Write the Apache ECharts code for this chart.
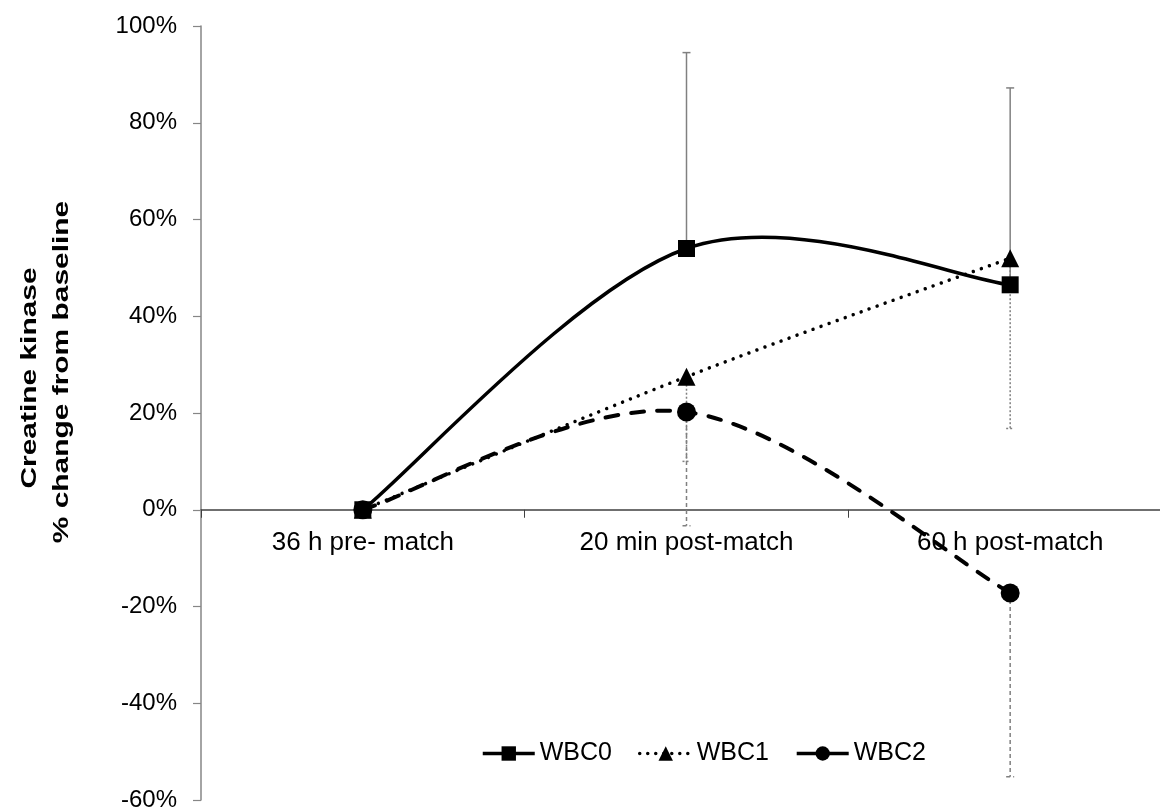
<!DOCTYPE html>
<html>
<head>
<meta charset="utf-8">
<script src="https://cdn.jsdelivr.net/npm/echarts@6/dist/echarts.min.js"></script>
<style>html,body{margin:0;padding:0;background:#fff}#c{width:1160px;height:807px}</style>
</head>
<body>
<div id="c"></div>
<script>
const categories = ['36 h pre- match', '20 min post-match', '60 h post-match'];
const yTicks = [-60, -40, -20, 0, 20, 40, 60, 80, 100];
const wbc0 = [0, 54.0, 46.5];
const wbc1 = [0, 27.5, 52.0];
const wbc2 = [0, 20.2, -17.2];
const wbc0Upper = [null, 94.5, 87.2];
const wbc1Lower = [null, 10.0, 16.8];
const wbc2Lower = [null, -3.3, -55.2];

const yMin = yTicks[0], yMax = yTicks[yTicks.length - 1], yStep = yTicks[1] - yTicks[0];
const font = 'Liberation Sans, Arial, sans-serif';
const gridTop = 26, gridBottom = 7, chartH = 807;
const plotH = chartH - gridTop - gridBottom;
// second grid (labels only) ends at the zero line
const zeroH = plotH * (yMax - 0) / (yMax - yMin);

function barData(means, bounds) {
  const out = [];
  means.forEach((m, i) => { if (bounds[i] !== null) out.push([i, m, bounds[i]]); });
  return out;
}

function errRender(dash) {
  return function (params, api) {
    const p0 = api.coord([api.value(0), api.value(1)]);
    const p1 = api.coord([api.value(0), api.value(2)]);
    const style = { stroke: '#808080', lineWidth: 1.5, lineDash: dash };
    return {
      type: 'group',
      children: [
        { type: 'line', shape: { x1: p0[0], y1: p0[1], x2: p1[0], y2: p1[1] }, style: style },
        { type: 'line', shape: { x1: p1[0] - 4, y1: p1[1], x2: p1[0] + 4, y2: p1[1] }, style: style }
      ]
    };
  };
}

// Excel-like smoothed curve (Catmull-Rom style Bezier) through the values
function curveRender(values, style) {
  return function (params, api) {
    if (params.dataIndex !== 0) return null;
    const pts = values.map((v, i) => api.coord([i, v]));
    const n = pts.length;
    let d = 'M' + pts[0][0] + ' ' + pts[0][1];
    for (let i = 0; i < n - 1; i++) {
      const p0 = pts[Math.max(i - 1, 0)], p1 = pts[i], p2 = pts[i + 1], p3 = pts[Math.min(i + 2, n - 1)];
      const c1x = p1[0] + (p2[0] - p0[0]) / 6, c1y = p1[1] + (p2[1] - p0[1]) / 6;
      const c2x = p2[0] - (p3[0] - p1[0]) / 6, c2y = p2[1] - (p3[1] - p1[1]) / 6;
      d += ' C' + c1x + ' ' + c1y + ' ' + c2x + ' ' + c2y + ' ' + p2[0] + ' ' + p2[1];
    }
    return { type: 'path', shape: { pathData: d }, style: Object.assign({ fill: null, stroke: '#000' }, style) };
  };
}

const s0 = { lineWidth: 3.5 };
const s1 = { lineWidth: 3.5, lineDash: [0.01, 8.5], lineCap: 'round' };
const s2 = { lineWidth: 4, lineDash: [13, 13], lineCap: 'round' };

const chart = echarts.init(document.getElementById('c'), null, { renderer: 'canvas' });
chart.setOption({
  animation: false,
  textStyle: { fontFamily: font },
  grid: [
    { left: 201, top: gridTop, bottom: gridBottom, right: -12, outerBoundsMode: 'none', containLabel: false },
    { left: 201, top: gridTop, height: zeroH, right: -12, outerBoundsMode: 'none', containLabel: false }
  ],
  graphic: [
    { type: 'text', x: 30, y: 378, rotation: Math.PI / 2, scaleX: 1.36, style: { text: 'Creatine kinase', font: 'bold 22px ' + font, fill: '#000', align: 'center', verticalAlign: 'middle' } },
    { type: 'text', x: 62, y: 372, rotation: Math.PI / 2, scaleX: 1.36, style: { text: '% change from baseline', font: 'bold 22px ' + font, fill: '#000', align: 'center', verticalAlign: 'middle' } }
  ],
  legend: {
    data: [
      { name: 'WBC0', lineStyle: { color: '#000', width: 3.5, type: 'solid', opacity: 1 } },
      { name: 'WBC1', lineStyle: { color: '#000', width: 3.5, type: [0.01, 8], cap: 'round', opacity: 1 } },
      { name: 'WBC2', lineStyle: { color: '#000', width: 3.5, type: 'solid', opacity: 1 } }
    ],
    top: 736,
    left: 476,
    itemWidth: 52,
    itemHeight: 18,
    itemGap: 26,
    textStyle: { fontSize: 25, color: '#000', fontFamily: font, padding: [0, 0, 0, 0] }
  },
  xAxis: [
    {
      type: 'category', gridIndex: 0,
      data: categories,
      axisLine: { onZero: true, lineStyle: { color: '#404040', width: 1.5 } },
      axisTick: { show: true, length: 8, lineStyle: { color: '#404040' } },
      axisLabel: { show: false },
      splitLine: { show: false }
    },
    {
      type: 'category', gridIndex: 1,
      data: categories,
      axisLine: { show: false },
      axisTick: { show: false },
      axisLabel: { fontSize: 26, color: '#000', margin: 20, fontFamily: font, interval: 0 },
      splitLine: { show: false }
    }
  ],
  yAxis: [
    {
      type: 'value', gridIndex: 0,
      min: yMin, max: yMax, interval: yStep,
      axisLine: { show: true, lineStyle: { color: '#868686', width: 1.5 } },
      axisTick: { show: true, length: 8, lineStyle: { color: '#868686', width: 1.2 } },
      axisLabel: { fontSize: 24, color: '#000', margin: 24, fontFamily: font, formatter: v => v + '%' },
      splitLine: { show: false }
    },
    {
      type: 'value', gridIndex: 1, min: 0, max: yMax, show: false
    }
  ],
  series: [
    { name: 'bar0', type: 'custom', z: 1, renderItem: errRender(null), data: barData(wbc0, wbc0Upper), encode: { x: 0, y: [1, 2] }, silent: true },
    { name: 'bar1', type: 'custom', z: 1, renderItem: errRender([2, 2]), data: barData(wbc1, wbc1Lower), encode: { x: 0, y: [1, 2] }, silent: true },
    { name: 'bar2', type: 'custom', z: 1, renderItem: errRender([4, 3]), data: barData(wbc2, wbc2Lower), encode: { x: 0, y: [1, 2] }, silent: true },
    { name: 'curve0', type: 'custom', z: 2, renderItem: curveRender(wbc0, s0), data: wbc0.map((v, i) => [i, v]), encode: { x: 0, y: 1 }, silent: true },
    { name: 'curve1', type: 'custom', z: 2, renderItem: curveRender(wbc1, s1), data: wbc1.map((v, i) => [i, v]), encode: { x: 0, y: 1 }, silent: true },
    { name: 'curve2', type: 'custom', z: 2, renderItem: curveRender(wbc2, s2), data: wbc2.map((v, i) => [i, v]), encode: { x: 0, y: 1 }, silent: true },
    { name: 'WBC0', type: 'line', z: 3, data: wbc0, symbol: 'rect', symbolSize: 17,
      lineStyle: { color: '#000', width: 3.5, opacity: 0 }, itemStyle: { color: '#000' } },
    { name: 'WBC1', type: 'line', z: 3, data: wbc1, symbol: 'triangle', symbolSize: 18,
      lineStyle: { color: '#000', width: 3.5, opacity: 0 }, itemStyle: { color: '#000' } },
    { name: 'WBC2', type: 'line', z: 3, data: wbc2, symbol: 'circle', symbolSize: 19,
      lineStyle: { color: '#000', width: 3.5, opacity: 0 }, itemStyle: { color: '#000' } }
  ]
});
</script>
</body>
</html>
